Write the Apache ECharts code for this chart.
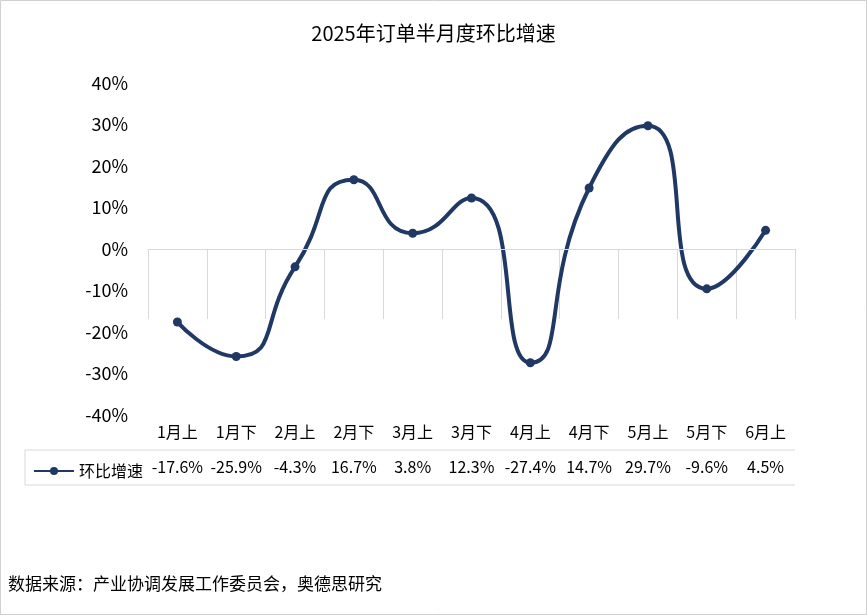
<!DOCTYPE html>
<html><head><meta charset="utf-8">
<script src="https://cdn.jsdelivr.net/npm/echarts@6/dist/echarts.min.js"></script>
<style>html,body{margin:0;padding:0;background:#fff}#c{width:867px;height:615px}</style>
</head><body><div id="c"></div>
<script>
var categories = ['1月上','1月下','2月上','2月下','3月上','3月下','4月上','4月下','5月上','5月下','6月上'];
var growth = [-17.6, -25.9, -4.3, 16.7, 3.8, 12.3, -27.4, 14.7, 29.7, -9.6, 4.5];
var seriesName = '环比增速';
var titleText = '2025年订单半月度环比增速';
var sourceText = '数据来源：产业协调发展工作委员会，奥德思研究';

var font = '"Noto Sans CJK SC", sans-serif';
var lineColor = '#203864';
var gridColor = '#d9d9d9';
var chart = echarts.init(document.getElementById('c'));

chart.setOption({
  animation: false,
  title: { text: titleText, left: 'center', top: 18,
    textStyle: { fontFamily: font, fontSize: 20, fontWeight: 'normal', color: '#000' } },
  legend: { data: [seriesName], left: 28, top: 458, itemWidth: 40, itemHeight: 10, itemGap: 4,
    textStyle: { fontFamily: font, fontSize: 16, color: '#000' } },
  grid: { left: 148, right: 72, top: 83, bottom: 200, containLabel: false },
  xAxis: [{
    type: 'category', data: categories, position: 'bottom', boundaryGap: true,
    axisLine: { show: true, lineStyle: { color: gridColor } },
    axisTick: { show: true, inside: false, alignWithLabel: false, length: 70, interval: 0,
      lineStyle: { color: gridColor, width: 1 } },
    axisLabel: { margin: 9, fontFamily: font, fontSize: 16, color: '#000', interval: 0 }
  }, {
    type: 'category', data: growth.map(function (v) { return v.toFixed(1) + '%'; }),
    position: 'bottom', offset: 35,
    axisLine: { show: false }, axisTick: { show: false },
    axisLabel: { margin: 9, fontFamily: font, fontSize: 16, color: '#000', interval: 0 }
  }],
  yAxis: {
    type: 'value', min: -40, max: 40, interval: 10,
    axisLine: { show: false }, axisTick: { show: false }, splitLine: { show: false },
    axisLabel: { margin: 20, fontFamily: font, fontSize: 18, color: '#000',
      formatter: function (v) { return v + '%'; } }
  },
  series: [{
    name: seriesName, type: 'line', data: growth, smooth: 0.6,
    symbol: 'circle', symbolSize: 9,
    itemStyle: { color: lineColor }, lineStyle: { color: lineColor, width: 4 },
    markLine: { silent: true, symbol: 'none', label: { show: false },
      lineStyle: { color: gridColor, type: 'solid', width: 1 }, data: [{ yAxis: 0 }] }
  }],
  graphic: [
    { type: 'line', shape: { x1: 25, y1: 450, x2: 795, y2: 450 }, style: { stroke: gridColor } },
    { type: 'line', shape: { x1: 25, y1: 485, x2: 795, y2: 485 }, style: { stroke: gridColor } },
    { type: 'line', shape: { x1: 25, y1: 450, x2: 25, y2: 485 }, style: { stroke: gridColor } },
    { type: 'rect', shape: { x: 0.5, y: 0.5, width: 866, height: 614 },
      style: { fill: 'none', stroke: '#d0d0d0' } },
    { type: 'text', left: 8, top: 575,
      style: { text: sourceText, font: '17px ' + font, fill: '#000' } }
  ]
});
</script></body></html>
